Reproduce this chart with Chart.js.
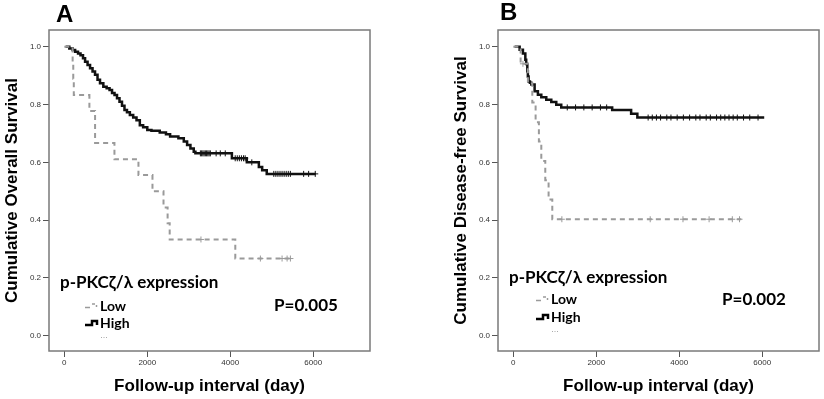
<!DOCTYPE html>
<html>
<head>
<meta charset="utf-8">
<script src="https://cdn.jsdelivr.net/npm/chart.js@4.4.1/dist/chart.umd.min.js"></script>
<style>
  body { margin: 0; background: #fff; }
  .panel { position: absolute; top: 0; }
</style>
</head>
<body>
<canvas id="chartA" class="panel" width="412" height="399" style="left:0"></canvas>
<canvas id="chartB" class="panel" width="412" height="399" style="left:412px"></canvas>
<script>
// Tick values
const xTicks = [0, 2000, 4000, 6000];
const yTicks = [0, 0.2, 0.4, 0.6, 0.8, 1.0];

// Panel A - overall survival (day of event / cumulative survival from that day on)
const lowA_days = [0, 200, 215, 228, 604, 741, 1208, 1787, 2125, 2391, 2490, 2540, 4122, 5491];
const lowA_surv = [1.0, 0.944, 0.889, 0.833, 0.778, 0.667, 0.611, 0.556, 0.5, 0.444, 0.389, 0.333, 0.267, 0.267];
const lowA_censor = [3294, 4727, 5250, 5371, 5451];

const highA_days = [30, 120, 200, 260, 330, 390, 450, 500, 560, 620, 680, 740, 800, 860, 940, 1020, 1090, 1150, 1210, 1270, 1330, 1390, 1450, 1510, 1580, 1660, 1740, 1820, 1900, 2000, 2100, 2300, 2450, 2550, 2750, 2880, 2960, 3040, 3120, 3160, 4040, 4400, 4690, 4770, 4880, 6060];
const highA_surv = [1.0, 0.994, 0.989, 0.983, 0.977, 0.971, 0.960, 0.948, 0.937, 0.926, 0.914, 0.903, 0.886, 0.874, 0.862, 0.856, 0.850, 0.840, 0.833, 0.822, 0.810, 0.796, 0.781, 0.773, 0.764, 0.755, 0.746, 0.728, 0.721, 0.712, 0.709, 0.703, 0.697, 0.689, 0.683, 0.672, 0.660, 0.648, 0.637, 0.631, 0.614, 0.600, 0.584, 0.573, 0.560, 0.560];
const highA_censor = [3280, 3310, 3340, 3370, 3400, 3430, 3460, 3490, 3520, 3660, 3760, 3880, 4120, 4170, 4220, 4270, 4320, 4360, 4520, 5050, 5100, 5150, 5200, 5250, 5300, 5350, 5400, 5450, 5770, 5890, 6050];

// Panel B - disease-free survival
const lowB_days = [0, 176, 351, 457, 537, 616, 674, 770, 850, 939, 5495];
const lowB_surv = [1.0, 0.941, 0.874, 0.807, 0.739, 0.672, 0.605, 0.538, 0.471, 0.403, 0.403];
const lowB_censor = [231, 1170, 3300, 4090, 4720, 5280, 5454];

const highB_days = [31, 152, 231, 289, 310, 337, 350, 368, 400, 433, 513, 592, 674, 794, 915, 1035, 1155, 2383, 2840, 2990, 6049];
const highB_surv = [1.0, 0.990, 0.977, 0.955, 0.940, 0.915, 0.897, 0.880, 0.875, 0.869, 0.846, 0.834, 0.825, 0.817, 0.809, 0.799, 0.790, 0.781, 0.768, 0.755, 0.755];
const highB_censor = [1300, 1500, 1700, 1900, 2100, 2250, 3250, 3350, 3450, 3550, 3700, 3800, 3950, 4100, 4250, 4400, 4500, 4650, 4750, 4900, 5000, 5100, 5200, 5300, 5400, 5550, 5700, 5900];

const seriesNames = ['Low', 'High'];

function toPoints(days, surv){
    return days.map((d, i) => ({ x: d, y: surv[i] }));
}

// survival value at time t, used to put the censor marks on the curve
function survivalAt(days, surv, t){
    let s = surv[0];
    for(let i = 0; i < days.length; i++){
        if(days[i] <= t) s = surv[i];
    }
    return s;
}

function censorPoints(days, surv, censor){
    return censor.map(t => ({ x: t, y: survivalAt(days, surv, t) }));
}

// draws the frame, panel letter, legend and p value
const decorPlugin = {
    id: 'decor',
    afterDraw(chart, args, opts){
        const ctx = chart.ctx;
        const a = chart.chartArea;
        ctx.save();
        ctx.strokeStyle = '#7a7a7a';
        ctx.lineWidth = 1.5;
        ctx.strokeRect(a.left, a.top, a.right - a.left, a.bottom - a.top);

        ctx.fillStyle = '#000';
        ctx.textBaseline = 'middle';
        ctx.textAlign = 'left';
        ctx.font = 'bold 24px "Liberation Sans", Arial, sans-serif';
        ctx.fillText(opts.letter, opts.letterX, opts.letterY);

        ctx.font = 'bold 17px Lato, "Open Sans", sans-serif';
        ctx.fillText('p-PKC\u03b6/\u03bb expression', opts.legX, opts.legY);
        ctx.fillText(opts.pText, opts.pX, opts.pY);

        ctx.font = 'bold 14px Lato, "Open Sans", sans-serif';
        ctx.fillText(seriesNames[0], opts.itemX, opts.lowY);
        ctx.fillText(seriesNames[1], opts.itemX, opts.highY);

        // legend glyphs
        const sx = opts.itemX - 15;
        ctx.strokeStyle = '#9a9a9a';
        ctx.lineWidth = 1.5;
        ctx.beginPath();
        ctx.moveTo(sx, opts.lowY + 1.5); ctx.lineTo(sx + 5, opts.lowY + 1.5);
        ctx.moveTo(sx + 7, opts.lowY - 2); ctx.lineTo(sx + 10, opts.lowY - 2);
        ctx.moveTo(sx + 11.5, opts.lowY - 1); ctx.lineTo(sx + 11.5, opts.lowY + 1);
        ctx.stroke();
        ctx.strokeStyle = '#000';
        ctx.lineWidth = 2.5;
        ctx.beginPath();
        ctx.moveTo(sx, opts.highY + 2); ctx.lineTo(sx + 7, opts.highY + 2);
        ctx.lineTo(sx + 7, opts.highY - 2); ctx.lineTo(sx + 12, opts.highY - 2);
        ctx.lineTo(sx + 12, opts.highY + 2);
        ctx.stroke();
        ctx.fillStyle = '#aaa';
        for(let i = 0; i < 3; i++){
            ctx.fillRect(opts.itemX + 1 + i * 2.5, opts.highY + 14, 1, 1);
        }
        ctx.restore();
    }
};

function crearGrafica(id, low, high, lowC, highC, yTitle, padLeft, padRight, decor){
    const tickFont = { family: '"Liberation Sans", Arial, sans-serif', size: 8 };
    const titleFont = { family: '"Liberation Sans", Arial, sans-serif', size: 17, weight: 'bold' };
    const ctx = document.getElementById(id).getContext('2d');
    return new Chart(ctx, {
        type: 'scatter',
        data: {
            datasets: [
                { label: seriesNames[0], data: low, showLine: true, stepped: 'before', borderColor: '#9a9a9a', borderWidth: 2, borderDash: [5, 4], pointRadius: 0 },
                { label: seriesNames[1], data: high, showLine: true, stepped: 'before', borderColor: '#111', borderWidth: 2.5, pointRadius: 0 },
                { label: 'Low censored', data: lowC, showLine: false, pointStyle: 'cross', pointRadius: 3, borderColor: '#9a9a9a', borderWidth: 1 },
                { label: 'High censored', data: highC, showLine: false, pointStyle: 'cross', pointRadius: 3, borderColor: '#111', borderWidth: 1 }
            ]
        },
        options: {
            responsive: false,
            animation: false,
            devicePixelRatio: 1,
            layout: { padding: { top: 30, right: padRight, bottom: 0, left: padLeft } },
            plugins: {
                legend: { display: false },
                tooltip: { enabled: false },
                decor: decor
            },
            scales: {
                x: {
                    type: 'linear',
                    min: -370,
                    max: 7370,
                    afterBuildTicks: (scale) => { scale.ticks = xTicks.map(v => ({ value: v })); },
                    afterFit: (scale) => { scale.height = 48; },
                    grid: { drawOnChartArea: false, drawTicks: true, tickLength: 6, color: '#555' },
                    border: { display: false },
                    ticks: { font: tickFont, color: '#333', padding: 1, maxRotation: 0, callback: v => v },
                    title: { display: true, text: 'Follow-up interval (day)', font: titleFont, color: '#000', padding: { top: 0, bottom: 2 } }
                },
                y: {
                    type: 'linear',
                    min: -0.053,
                    max: 1.058,
                    afterBuildTicks: (scale) => { scale.ticks = yTicks.map(v => ({ value: v })); },
                    afterFit: (scale) => { scale.width = 49; },
                    grid: { drawOnChartArea: false, drawTicks: true, tickLength: 6, color: '#555' },
                    border: { display: false },
                    ticks: { font: tickFont, color: '#333', padding: 2, callback: v => v.toFixed(1) },
                    title: { display: true, text: yTitle, font: titleFont, color: '#000', padding: { top: 2, bottom: 0 } }
                }
            }
        },
        plugins: [decorPlugin]
    });
}

crearGrafica('chartA',
    toPoints(lowA_days, lowA_surv), toPoints(highA_days, highA_surv),
    censorPoints(lowA_days, lowA_surv, lowA_censor), censorPoints(highA_days, highA_surv, highA_censor),
    'Cumulative Overall Survival', 0, 42,
    { letter: 'A', letterX: 56, letterY: 15, legX: 60, legY: 283, pText: 'P=0.005', pX: 274, pY: 306, itemX: 100, lowY: 306, highY: 323 });

crearGrafica('chartB',
    toPoints(lowB_days, lowB_surv), toPoints(highB_days, highB_surv),
    censorPoints(lowB_days, lowB_surv, lowB_censor), censorPoints(highB_days, highB_surv, highB_censor),
    'Cumulative Disease-free Survival', 37, 5,
    { letter: 'B', letterX: 88, letterY: 13, legX: 97, legY: 278, pText: 'P=0.002', pX: 310, pY: 300, itemX: 139, lowY: 299, highY: 317 });
</script>
</body>
</html>
